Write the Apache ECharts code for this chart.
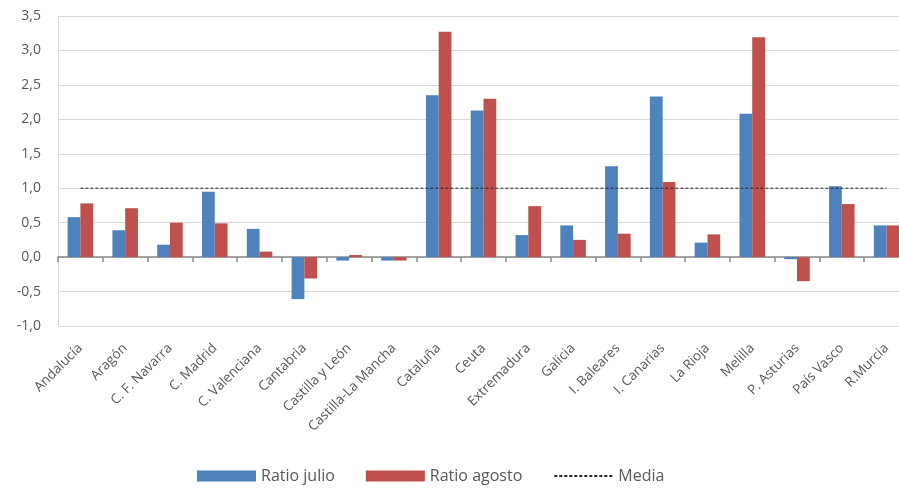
<!DOCTYPE html>
<html>
<head>
<meta charset="utf-8">
<script src="https://cdn.jsdelivr.net/npm/echarts@6/dist/echarts.min.js"></script>
<style>
  html, body { margin: 0; padding: 0; background: #fff; }
  #chart { width: 899px; height: 489px; }
</style>
</head>
<body>
<div id="chart"></div>
<script>
// Regions shown along the category axis
const regiones = ['Andalucía', 'Aragón', 'C. F. Navarra', 'C. Madrid', 'C. Valenciana', 'Cantabria',
  'Castilla y León', 'Castilla-La Mancha', 'Cataluña', 'Ceuta', 'Extremadura', 'Galicia',
  'I. Baleares', 'I. Canarias', 'La Rioja', 'Melilla', 'P. Asturias', 'País Vasco', 'R.Murcia'];

// Ratio per region, July and August
const ratioJulio = [0.58, 0.39, 0.18, 0.95, 0.41, -0.61, -0.05, -0.05, 2.35, 2.13, 0.32, 0.46,
  1.32, 2.33, 0.21, 2.08, -0.03, 1.03, 0.46];
const ratioAgosto = [0.78, 0.71, 0.50, 0.49, 0.08, -0.31, 0.03, -0.05, 3.27, 2.30, 0.74, 0.25,
  0.34, 1.09, 0.33, 3.19, -0.35, 0.77, 0.46];

// Reference average level
const media = regiones.map(() => 1.0);

// Value axis settings
const yMin = -1.0;
const yMax = 3.5;
const yStep = 0.5;

const chart = echarts.init(document.getElementById('chart'), null, { renderer: 'canvas' });

const labelFont = '"Open Sans", "Noto Sans", sans-serif';

chart.setOption({
  animation: false,
  backgroundColor: '#ffffff',
  textStyle: { fontFamily: labelFont },
  // plot area runs slightly past the right edge of the canvas
  grid: { left: 58, width: 851, top: 16, bottom: 163, containLabel: false, outerBoundsMode: 'none' },
  legend: {
    bottom: 0,
    left: 192,
    itemWidth: 59,
    itemHeight: 11,
    itemGap: 31,
    textStyle: { fontSize: 16, color: '#595959', fontFamily: labelFont },
    data: [
      { name: 'Ratio julio', icon: 'rect' },
      { name: 'Ratio agosto', icon: 'rect' },
      { name: 'Media', itemStyle: { opacity: 0 } }
    ]
  },
  xAxis: [
    {
      // labels along the bottom of the plot
      type: 'category',
      data: regiones,
      position: 'bottom',
      axisLine: { show: false, onZero: false },
      axisTick: { show: false },
      axisLabel: {
        interval: 0,
        rotate: 45,
        margin: 20,
        fontSize: 13.5,
        color: '#595959',
        fontFamily: labelFont
      },
      splitLine: { show: false }
    },
    {
      // zero baseline with category ticks
      type: 'category',
      data: regiones,
      position: 'bottom',
      axisLine: { show: true, onZero: true, lineStyle: { color: '#898989', width: 1.5 } },
      axisTick: { show: true, interval: 0, length: 5, lineStyle: { color: '#898989', width: 1.5 } },
      axisLabel: { show: false },
      splitLine: { show: false }
    }
  ],
  yAxis: {
    type: 'value',
    min: yMin,
    max: yMax,
    interval: yStep,
    axisLine: { show: true, lineStyle: { color: '#D9D9D9', width: 1 } },
    axisTick: { show: false },
    axisLabel: {
      margin: 17,
      fontSize: 14,
      color: '#595959',
      fontFamily: labelFont,
      formatter: v => v.toFixed(1).replace('.', ',')
    },
    splitLine: { show: true, lineStyle: { color: '#D9D9D9', width: 1 } }
  },
  series: [
    {
      name: 'Ratio julio',
      type: 'bar',
      xAxisIndex: 0,
      data: ratioJulio,
      barGap: '0%',
      barCategoryGap: '43%',
      itemStyle: { color: '#4F81BD' }
    },
    {
      name: 'Ratio agosto',
      type: 'bar',
      xAxisIndex: 0,
      data: ratioAgosto,
      barGap: '0%',
      barCategoryGap: '43%',
      itemStyle: { color: '#C0504D' }
    },
    {
      name: 'Media',
      type: 'line',
      xAxisIndex: 0,
      data: media,
      symbol: 'none',
      z: 5,
      lineStyle: { color: '#262626', width: 1, type: [3, 2] },
      itemStyle: { color: '#262626' }
    }
  ]
});
</script>
</body>
</html>
